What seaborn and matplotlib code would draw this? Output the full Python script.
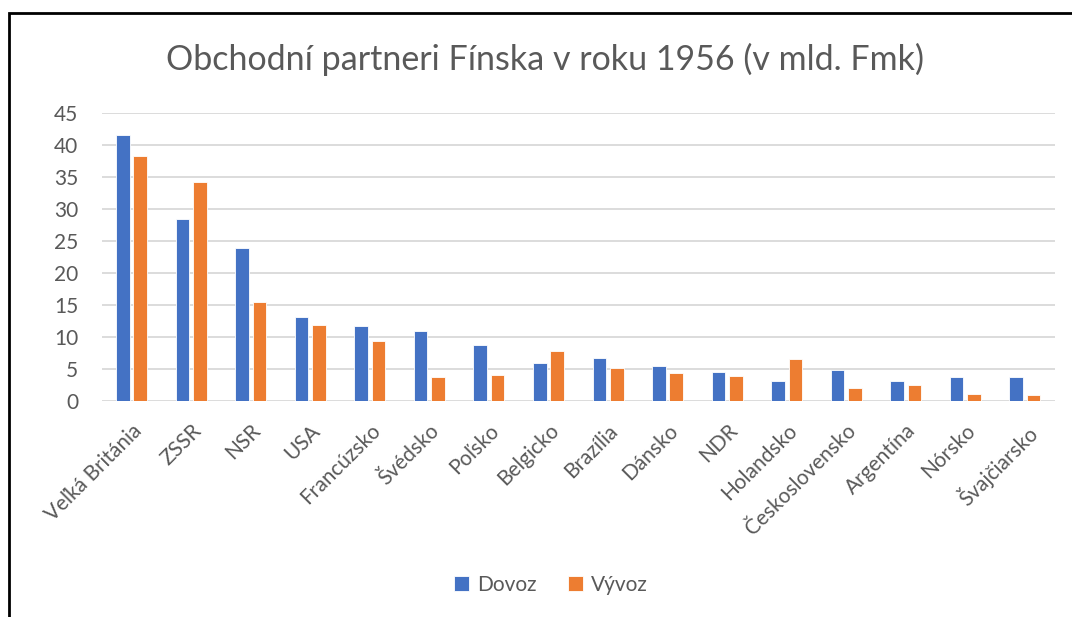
import pandas as pd
import numpy as np
import matplotlib
matplotlib.use("Agg")
import matplotlib.pyplot as plt
import seaborn as sns
from matplotlib.patches import Rectangle

countries = ["Veľká Británia", "ZSSR", "NSR", "USA", "Francúzsko", "Švédsko",
             "Poľsko", "Belgicko", "Brazília", "Dánsko", "NDR", "Holandsko",
             "Československo", "Argentína", "Nórsko", "Švajčiarsko"]
dovoz = [41.6, 28.4, 23.9, 13.2, 11.7, 11.0, 8.8, 6.0, 6.7, 5.4, 4.5, 3.1,
         4.8, 3.2, 3.7, 3.7]
vyvoz = [38.2, 34.2, 15.4, 11.9, 9.4, 3.8, 4.0, 7.8, 5.2, 4.4, 3.9, 6.5,
         2.1, 2.5, 1.1, 1.0]
series = ["Dovoz", "Vývoz"]
colors = ["#4472C4", "#ED7D31"]
grey = "#595959"

df = pd.DataFrame({
    "krajina": countries * 2,
    "hodnota": dovoz + vyvoz,
    "typ": [series[0]] * len(countries) + [series[1]] * len(countries),
})

sns.set_style("white")
plt.rcParams["font.family"] = ["Lato", "DejaVu Sans"]

fig = plt.figure(figsize=(10.72, 6.17), dpi=100)
ax = fig.add_axes([0.0949, 0.350, 0.889, 0.467])

sns.barplot(data=df, x="krajina", y="hodnota", hue="typ", palette=colors,
            saturation=1, width=0.585, gap=0.22, edgecolor="white",
            linewidth=0.6, ax=ax, zorder=3)

ax.set_ylim(0, 45)
ax.set_yticks(range(0, 46, 5))
ax.set_xlim(-0.5, len(countries) - 0.5)
ax.yaxis.grid(True, color="#D9D9D9", linewidth=1.3, zorder=0)
ax.set_axisbelow(True)
for s in ax.spines.values():
    s.set_visible(False)
ax.set_xlabel("")
ax.set_ylabel("")
ax.tick_params(axis="y", labelsize=15, labelcolor=grey, length=0, pad=17)
ax.tick_params(axis="x", labelsize=15, labelcolor=grey, length=0, pad=14)
plt.setp(ax.get_xticklabels(), rotation=45, ha="right", rotation_mode="anchor")

fig.text(0.508, 0.903, "Obchodní partneri Fínska v roku 1956 (v mld. Fmk)",
         ha="center", va="center", fontsize=24.5, color=grey)

ax.legend(loc="center", bbox_to_anchor=(0.514, 0.052), bbox_transform=fig.transFigure,
          ncol=2, frameon=False, fontsize=15, labelcolor=grey,
          handlelength=0.7, handleheight=0.7, handletextpad=0.4, columnspacing=1.5)

# black frame around chart (cut off on right and bottom)
fig.patches.append(Rectangle((9 / 1072, -0.1), 1.2, 1 - 13 / 617 + 0.1,
                             transform=fig.transFigure, fill=False,
                             edgecolor="black", linewidth=2, zorder=10))

plt.savefig("out.png", dpi=100)
plt.close()
